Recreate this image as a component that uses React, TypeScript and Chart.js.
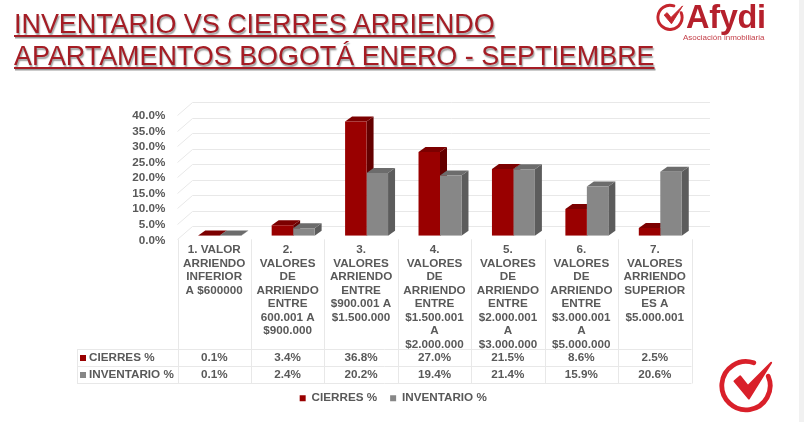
import React, { useEffect, useRef } from "react";
import { Chart, registerables } from "chart.js";

Chart.register(...registerables);

const categories: string[][] = [
  ["1. VALOR", "ARRIENDO", "INFERIOR", "A $600000"],
  ["2.", "VALORES", "DE", "ARRIENDO", "ENTRE", "600.001 A", "$900.000"],
  ["3.", "VALORES", "ARRIENDO", "ENTRE", "$900.001 A", "$1.500.000"],
  ["4.", "VALORES", "DE", "ARRIENDO", "ENTRE", "$1.500.001", "A", "$2.000.000"],
  ["5.", "VALORES", "DE", "ARRIENDO", "ENTRE", "$2.000.001", "A", "$3.000.000"],
  ["6.", "VALORES", "DE", "ARRIENDO", "ENTRE", "$3.000.001", "A", "$5.000.000"],
  ["7.", "VALORES", "ARRIENDO", "SUPERIOR", "ES A", "$5.000.001"],
];
const cierres = [0.1, 3.4, 36.8, 27.0, 21.5, 8.6, 2.5];
const inventario = [0.1, 2.4, 20.2, 19.4, 21.4, 15.9, 20.6];
const titleLines = ["INVENTARIO VS CIERRES ARRIENDO", "APARTAMENTOS BOGOTÁ ENERO - SEPTIEMBRE"];

const TEXT = "#595959";
const FONT = "'Liberation Sans', Arial, sans-serif";
const GRID = "#e8e8e8";
const faces = [
  { front: "#990000", side: "#640000", top: "#7c0000" },
  { front: "#878787", side: "#5c5c5c", top: "#6c6c6c" },
];

const threeD = {
  id: "threeD",
  beforeDraw(chart: any) {
    // the legend sits under the middle of the whole picture, not of the plot
    if (chart.legend && !chart.$legendMoved) {
      chart.legend.left += 47.5;
      chart.legend.right += 47.5;
      chart.$legendMoved = true;
    }
  },
  beforeDatasetsDraw(chart: any) {
    const { ctx, scales, chartArea } = chart;
    const y = scales.y;
    ctx.save();
    ctx.strokeStyle = GRID;
    ctx.lineWidth = 1;
    y.ticks.forEach((_: any, i: number) => {
      const py = Math.round(y.getPixelForTick(i)) + 0.5;
      ctx.beginPath();
      ctx.moveTo(chartArea.left, py);
      ctx.lineTo(chartArea.left + 15, py - 13);
      ctx.lineTo(chartArea.right + 18.5, py - 13);
      ctx.stroke();
    });
    [0, 1].forEach((d) => {
      const meta = chart.getDatasetMeta(d);
      meta.data.forEach((b: any) => {
        const l = b.x - b.width / 2 + 5.5;
        const r = b.x + b.width / 2 + 5.5;
        const t = b.y - 3.5;
        const bt = b.base - 3.5;
        const dx = 7;
        const dy = 5;
        ctx.fillStyle = faces[d].side;
        ctx.beginPath();
        ctx.moveTo(r, t);
        ctx.lineTo(r + dx, t - dy);
        ctx.lineTo(r + dx, bt - dy);
        ctx.lineTo(r, bt);
        ctx.closePath();
        ctx.fill();
        ctx.fillStyle = faces[d].top;
        ctx.beginPath();
        ctx.moveTo(l, t);
        ctx.lineTo(l + dx, t - dy);
        ctx.lineTo(r + dx, t - dy);
        ctx.lineTo(r, t);
        ctx.closePath();
        ctx.fill();
      });
    });
    ctx.restore();
    ctx.save();
    ctx.translate(5.5, -3.5);
  },
  afterDatasetsDraw(chart: any) {
    const { ctx, scales, chartArea } = chart;
    ctx.restore();
    const x = scales.x;
    const rowLines = [349.5, 366.5, 383.5];
    const rowText = [358, 375];
    const tableLeft = 77;
    ctx.save();
    ctx.strokeStyle = GRID;
    ctx.lineWidth = 1;
    rowLines.forEach((ry) => {
      ctx.beginPath();
      ctx.moveTo(tableLeft, ry);
      ctx.lineTo(chartArea.right, ry);
      ctx.stroke();
    });
    ctx.beginPath();
    ctx.moveTo(tableLeft + 0.5, rowLines[0]);
    ctx.lineTo(tableLeft + 0.5, rowLines[2]);
    ctx.stroke();
    const colW = (chartArea.right - chartArea.left) / categories.length;
    for (let i = 0; i <= categories.length; i++) {
      const px = Math.round(chartArea.left + i * colW) + 0.5;
      ctx.beginPath();
      ctx.moveTo(px, chartArea.bottom);
      ctx.lineTo(px, rowLines[2]);
      ctx.stroke();
    }
    ctx.font = `bold 11.7px ${FONT}`;
    ctx.textBaseline = "middle";
    chart.data.datasets.forEach((ds: any, d: number) => {
      ctx.fillStyle = ds.backgroundColor;
      ctx.fillRect(80, rowText[d] - 3, 6, 6);
      ctx.fillStyle = TEXT;
      ctx.textAlign = "left";
      ctx.fillText(ds.label, 89, rowText[d]);
      ctx.textAlign = "center";
      ds.data.forEach((v: number, i: number) => {
        ctx.fillText(v.toFixed(1) + "%", x.getPixelForTick(i), rowText[d]);
      });
    });
    ctx.restore();
  },
};

function Check({ style, color, ring }: { style: React.CSSProperties; color: string; ring: number }) {
  return (
    <svg viewBox="0 0 60 60" style={{ position: "absolute", ...style }}>
      <path d="M37 6 A25 25 0 1 0 52 20" fill="none" stroke={color} strokeWidth={ring} strokeLinecap="round" />
      <path
        d="M17 25 L23 20 L31 30 L55 6 L32 43 Z"
        fill={color}
        stroke={color}
        strokeWidth="2"
        strokeLinejoin="round"
      />
    </svg>
  );
}

export default function App() {
  const ref = useRef<HTMLCanvasElement>(null);
  useEffect(() => {
    const chart = new Chart(ref.current as HTMLCanvasElement, {
      type: "bar",
      data: {
        labels: categories as any,
        datasets: [
          { label: "CIERRES %", data: cierres, backgroundColor: faces[0].front },
          { label: "INVENTARIO %", data: inventario, backgroundColor: faces[1].front },
        ],
      },
      options: {
        animation: false,
        responsive: false,
        layout: { padding: { top: 115, right: 112.5, left: 0, bottom: 8 } },
        datasets: { bar: { categoryPercentage: 0.585, barPercentage: 1 } },
        plugins: {
          title: { display: false },
          tooltip: { enabled: false },
          legend: {
            position: "bottom",
            onClick: undefined,
            labels: {
              boxWidth: 6,
              boxHeight: 6,
              padding: 13,
              color: TEXT,
              font: { family: FONT, size: 11.7, weight: "bold" },
            },
          },
        },
        scales: {
          x: {
            grid: { display: false, drawTicks: false },
            border: { display: false },
            afterFit(s: any) {
              s.height = 140;
            },
            ticks: {
              autoSkip: false,
              maxRotation: 0,
              minRotation: 0,
              padding: 4,
              color: TEXT,
              font: { family: FONT, size: 11.7, weight: "bold", lineHeight: 1.153 },
            },
          },
          y: {
            min: 0,
            max: 40,
            grid: { display: false, drawTicks: false },
            border: { display: false },
            afterFit(s: any) {
              s.width = 177.5;
            },
            ticks: {
              stepSize: 5,
              autoSkip: false,
              padding: 12,
              labelOffset: 1,
              color: TEXT,
              font: { family: FONT, size: 11.7, weight: "bold" },
              callback: (v: any) => Number(v).toFixed(1) + "%",
            },
          },
        },
      } as any,
      plugins: [threeD],
    });
    return () => chart.destroy();
  }, []);

  return (
    <div style={{ position: "absolute", left: 0, top: 0, width: 804, height: 422, overflow: "hidden", background: "#fff", fontFamily: FONT }}>
      <canvas ref={ref} width={804} height={422} style={{ position: "absolute", left: 0, top: 0, width: 804, height: 422 }} />
      {titleLines.map((t, i) => (
        <div
          key={t}
          style={{
            position: "absolute",
            left: 14,
            top: 8 + i * 32,
            fontSize: 26.9,
            lineHeight: "32px",
            whiteSpace: "nowrap",
            color: "#a51c24",
            textDecoration: "underline",
            textShadow: "1px 1.5px 1.5px rgba(0,0,0,0.4)",
          }}
        >
          {t}
        </div>
      ))}
      <Check style={{ left: 656, top: 3, width: 29, height: 29 }} color="#c4262e" ring={6} />
      <div style={{ position: "absolute", left: 686, top: -4, fontSize: 32.5, fontWeight: "bold", color: "#b5202c", lineHeight: "42px", letterSpacing: -0.3 }}>Afydi</div>
      <div style={{ position: "absolute", left: 683, top: 33, fontSize: 8, color: "#c4404a", lineHeight: "10px", whiteSpace: "nowrap" }}>Asociación inmobiliaria</div>
      <Check style={{ left: 718, top: 357, width: 58, height: 58 }} color="#d9202a" ring={5} />
      <div style={{ position: "absolute", left: 799, top: 0, width: 5, height: 422, background: "#f1f1f1" }} />
    </div>
  );
}
